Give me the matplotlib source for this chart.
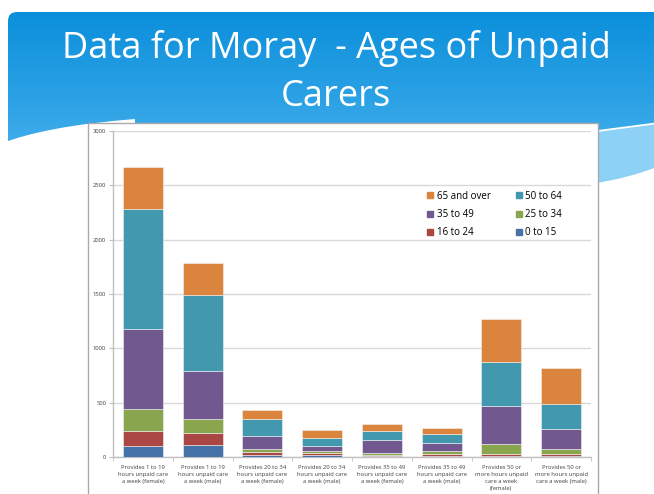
import matplotlib

matplotlib.use("Agg")
import matplotlib.pyplot as plt
import numpy as np
from matplotlib.colors import LinearSegmentedColormap
from matplotlib.lines import Line2D
from matplotlib.patches import FancyBboxPatch, PathPatch, Rectangle
from matplotlib.path import Path

W, H = 654, 494

categories = [
    "Provides 1 to 19\nhours unpaid care\na week (female)",
    "Provides 1 to 19\nhours unpaid care\na week (male)",
    "Provides 20 to 34\nhours unpaid care\na week (female)",
    "Provides 20 to 34\nhours unpaid care\na week (male)",
    "Provides 35 to 49\nhours unpaid care\na week (female)",
    "Provides 35 to 49\nhours unpaid care\na week (male)",
    "Provides 50 or\nmore hours unpaid\ncare a week\n(female)",
    "Provides 50 or\nmore hours unpaid\ncare a week (male)",
]
age_groups = ["0 to 15", "16 to 24", "25 to 34", "35 to 49", "50 to 64", "65 and over"]
age_0_15 = [100, 115, 15, 15, 8, 10, 13, 13]
age_16_24 = [140, 110, 31, 22, 10, 15, 18, 18]
age_25_34 = [200, 125, 31, 15, 22, 32, 92, 43]
age_35_49 = [735, 445, 119, 49, 114, 75, 346, 181]
age_50_64 = [1110, 695, 151, 77, 89, 77, 409, 236]
age_65_over = [380, 295, 83, 67, 59, 61, 389, 325]
age_colors = ["#4572a7", "#aa4643", "#89a54e", "#71588f", "#4198af", "#db843d"]

plt.rcParams["font.family"] = ["Open Sans", "DejaVu Sans"]

fig = plt.figure(figsize=(W / 100, H / 100), dpi=100)

# slide background in pixel coordinates
bg = fig.add_axes([0, 0, 1, 1])
bg.set_zorder(0)
grad = np.linspace(0, 1, 256).reshape(-1, 1)
cmap = LinearSegmentedColormap.from_list("hdr", ["#0b8fdb", "#2ea3e6", "#5cbaf1"])
im = bg.imshow(grad, cmap=cmap, extent=(8, W + 20, 200, 12), aspect="auto", zorder=0)
header = FancyBboxPatch((8, 12), W + 40, 250, boxstyle="round,pad=0,rounding_size=9",
                        transform=bg.transData, facecolor="none", edgecolor="none")
bg.add_patch(header)
im.set_clip_path(header)

left_swoosh = Path([(0, 144), (45, 126), (135, 119), (135, H + 5), (0, H + 5), (0, 144)],
                   [Path.MOVETO, Path.CURVE3, Path.CURVE3, Path.LINETO, Path.LINETO, Path.CLOSEPOLY])
bg.add_patch(PathPatch(left_swoosh, facecolor="white", edgecolor="none", zorder=2))
light_band = Path([(590, 132), (W + 5, 123), (W + 5, 166), (630, 178), (590, 184), (590, 132)],
                  [Path.MOVETO, Path.LINETO, Path.LINETO, Path.CURVE3, Path.CURVE3, Path.CLOSEPOLY])
bg.add_patch(PathPatch(light_band, facecolor="#8dd1f6", edgecolor="none", zorder=2))
right_white = Path([(590, 184), (630, 178), (W + 5, 166), (W + 5, H + 5), (590, H + 5), (590, 184)],
                   [Path.MOVETO, Path.CURVE3, Path.CURVE3, Path.LINETO, Path.LINETO, Path.CLOSEPOLY])
bg.add_patch(PathPatch(right_white, facecolor="white", edgecolor="none", zorder=2))
bg.plot([590, W + 5], [132, 123], color="white", linewidth=1.3, zorder=3)

bg.add_patch(Rectangle((88, 123), 510, 420, facecolor="white", edgecolor="#a9a9a9", linewidth=1.0, zorder=4))
bg.set_xlim(0, W)
bg.set_ylim(H, 0)
bg.axis("off")

fig.text(336 / W, 1 - 58 / H, "Data for Moray  - Ages of Unpaid", ha="center", va="baseline",
         color="white", fontsize=26)
fig.text(336 / W, 1 - 106 / H, "Carers", ha="center", va="baseline", color="white", fontsize=26)

# chart
ax = fig.add_axes([113 / W, 1 - 457 / H, 478 / W, 326 / H])
ax.set_zorder(1)
ax.patch.set_alpha(0)

series = [age_0_15, age_16_24, age_25_34, age_35_49, age_50_64, age_65_over]
x = np.arange(len(categories))
bottom = np.zeros(len(categories))
bars = {}
for name, vals, col in zip(age_groups, series, age_colors):
    bars[name] = ax.bar(x, vals, 0.67, bottom=bottom, color=col, edgecolor="#f2f2f2",
                        linewidth=0.4, zorder=3)
    bottom += np.array(vals)

ax.set_xlim(-0.5, len(categories) - 0.5)
ax.set_ylim(0, 3000)
ax.set_yticks(np.arange(0, 3001, 500))
ax.yaxis.grid(True, color="#d9d9d9", linewidth=1.0, zorder=0)
ax.set_axisbelow(True)
for side in ("top", "right"):
    ax.spines[side].set_visible(False)
for side in ("left", "bottom"):
    ax.spines[side].set_color("#c0c0c0")
    ax.spines[side].set_linewidth(1.0)

ax.set_xticks(x)
ax.set_xticklabels(categories, fontsize=4.2, color="#404040", linespacing=1.45)
ax.set_xticks(np.arange(-0.5, len(categories)), minor=True)
ax.tick_params(axis="x", which="major", length=0, pad=6)
ax.tick_params(axis="x", which="minor", length=3, color="#c0c0c0")
ax.tick_params(axis="y", length=3, color="#c0c0c0", labelsize=4.2, labelcolor="#404040", pad=2)

order = ["65 and over", "35 to 49", "16 to 24", "50 to 64", "25 to 34", "0 to 15"]
handles = [Line2D([], [], marker="s", linestyle="none", markersize=4.3,
                  color=age_colors[age_groups.index(n)]) for n in order]
ax.legend(handles, order, ncol=2, loc="upper left", bbox_to_anchor=(422 / W, 1 - 186 / H),
          bbox_transform=fig.transFigure, frameon=False, fontsize=7, handlelength=0.6,
          handletextpad=0.4, columnspacing=2.6, labelspacing=0.75, borderpad=0)

fig.savefig("out.png", dpi=100)
